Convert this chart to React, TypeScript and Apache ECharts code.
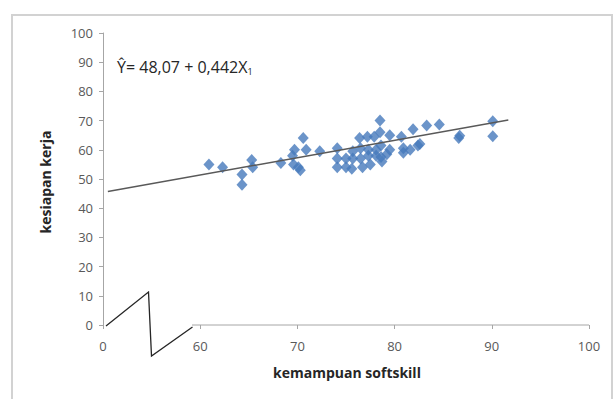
import React, { useEffect, useRef } from "react";
import * as echarts from "echarts";

// x values are on a broken axis: 50 on the scale is labelled "0"
const xTicks = [50, 60, 70, 80, 90, 100];
const xTickLabels = ["0", "60", "70", "80", "90", "100"];
const yTicks = [0, 10, 20, 30, 40, 50, 60, 70, 80, 90, 100];

const points: [number, number][] = [
  [60.9, 55], [62.3, 54], [64.3, 51.5], [64.3, 48], [65.3, 56.5], [65.4, 54], [68.3, 55.5],
  [69.7, 60], [69.5, 58], [69.6, 55], [70.1, 54], [70.3, 53], [70.6, 64], [70.9, 60], [72.3, 59.5],
  [74.1, 60.5], [74.1, 57], [74.1, 54], [75, 57], [75, 54], [75.7, 59.5], [75.7, 57], [75.6, 53.5],
  [76.4, 64], [76.5, 60.5], [76.5, 57], [76.7, 54], [77.2, 64.5], [77.3, 60], [77.3, 58], [77.5, 55],
  [77.9, 64.5], [78.1, 60], [78.1, 58],
  [78.5, 70], [78.5, 66], [78.6, 61.5], [78.6, 57.5], [78.7, 56],
  [79.5, 65], [79.5, 60], [79.2, 58.5],
  [80.7, 64.5], [80.9, 60.5], [80.9, 59], [81.6, 60], [81.9, 67], [82.4, 61.5], [82.6, 62],
  [83.3, 68.3], [84.6, 68.7], [86.6, 64], [86.7, 64.8], [90.1, 69.8], [90.1, 64.6],
];

const regressionLine: [number, number][] = [
  [50.5, 45.7],
  [91.7, 70.2],
];

const equationMain = "Ŷ= 48,07 + 0,442X";
const equationSub = "1";
const xName = "kemampuan softskill";
const yName = "kesiapan kerja";

export default function App() {
  const ref = useRef<HTMLDivElement>(null);
  useEffect(() => {
    if (!ref.current) return;
    const chart = echarts.init(ref.current, undefined, { renderer: "svg" });
    const font = "'Open Sans', 'Liberation Sans', sans-serif";
    chart.setOption({
      animation: false,
      backgroundColor: "#ffffff",
      textStyle: { fontFamily: font },
      grid: { left: 103, right: 27, top: 33, bottom: 74 },
      xAxis: {
        type: "value",
        min: 50,
        max: 100,
        interval: 10,
        splitLine: { show: false },
        axisLine: { show: false },
        axisTick: { show: true, length: 4, lineStyle: { color: "#a6a6a6" } },
        axisLabel: {
          color: "#595959",
          fontSize: 13,
          margin: 14,
          formatter: (v: number) => {
            const i = xTicks.indexOf(v);
            return i >= 0 ? xTickLabels[i] : "";
          },
        },
      },
      yAxis: {
        type: "value",
        min: 0,
        max: 100,
        interval: 10,
        splitLine: { show: false },
        axisLine: { show: true, lineStyle: { color: "#a6a6a6", width: 1 } },
        axisTick: { show: true, length: 4, lineStyle: { color: "#a6a6a6" } },
        axisLabel: {
          color: "#595959",
          fontSize: 13,
          margin: 10,
          formatter: (v: number) => (yTicks.includes(v) ? String(v) : ""),
        },
      },
      graphic: [
        {
          type: "rect",
          shape: { x: 12, y: 15, width: 600, height: 400 },
          style: { fill: "none", stroke: "#d2d2d2", lineWidth: 2 },
          silent: true,
        },
        {
          type: "line",
          shape: { x1: 192, y1: 325, x2: 589, y2: 325 },
          style: { stroke: "#a6a6a6", lineWidth: 1 },
        },
        {
          type: "polyline",
          shape: { points: [[106, 326], [148.5, 292], [151.5, 356], [192.5, 327]] },
          style: { stroke: "#262626", lineWidth: 1.3, fill: "none" },
        },
        {
          type: "text",
          x: 117,
          y: 67,
          style: {
            text: `{m|${equationMain}}{s|${equationSub}}`,
            verticalAlign: "middle",
            rich: {
              m: { fontSize: 16, fill: "#262626", fontFamily: font },
              s: { fontSize: 9, fill: "#262626", fontFamily: font, padding: [9, 0, 0, 0] },
            },
          },
        },
        {
          type: "text",
          x: 347,
          y: 372,
          style: {
            text: xName,
            fontSize: 14,
            fontWeight: "bold",
            fill: "#262626",
            fontFamily: font,
            align: "center",
            verticalAlign: "middle",
          },
        },
        {
          type: "text",
          x: 45,
          y: 182,
          rotation: Math.PI / 2,
          style: {
            text: yName,
            fontSize: 14,
            fontWeight: "bold",
            fill: "#262626",
            fontFamily: font,
            align: "center",
            verticalAlign: "middle",
          },
        },
      ],
      series: [
        {
          type: "line",
          data: regressionLine,
          showSymbol: false,
          symbol: "none",
          lineStyle: { color: "#595959", width: 1.5 },
          z: 3,
        },
        {
          type: "scatter",
          data: points,
          symbol: "diamond",
          symbolSize: [11, 12],
          itemStyle: { color: "#4679bb" },
          z: 2,
        },
      ],
    });
    return () => chart.dispose();
  }, []);
  return (
    <div
      ref={ref}
      style={{ position: "fixed", left: 0, top: 0, width: 616, height: 399 }}
    />
  );
}
